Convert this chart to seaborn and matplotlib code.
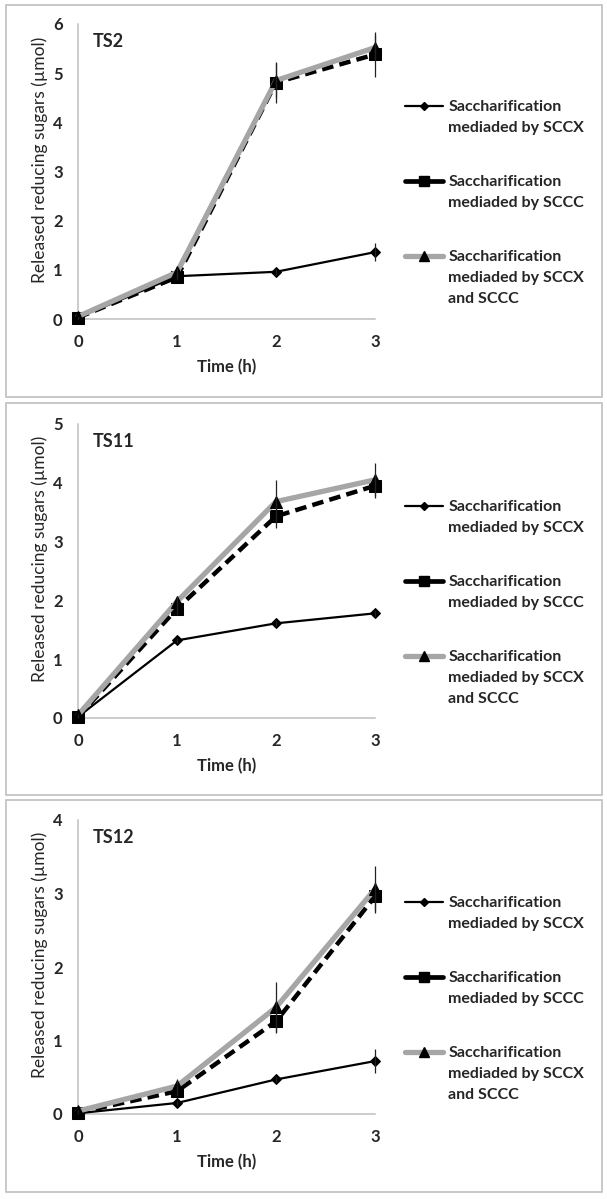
import matplotlib
matplotlib.use("Agg")
import matplotlib.pyplot as plt
from matplotlib.lines import Line2D
from matplotlib.patches import Rectangle
import seaborn as sns

# time points (h)
time_h = [0, 1, 2, 3]

# TS2
ts2_sccx = [0.03, 0.87, 0.96, 1.36]
ts2_sccx_err = [0.02, 0.05, 0.06, 0.19]
ts2_sccc = [0.03, 0.85, 4.81, 5.38]
ts2_sccc_err = [0.02, 0.06, 0.42, 0.45]
ts2_both = [0.05, 0.95, 4.85, 5.52]
ts2_both_err = [0.02, 0.08, 0.35, 0.25]

# TS11
ts11_sccx = [0.02, 1.32, 1.61, 1.78]
ts11_sccx_err = [0.01, 0.04, 0.04, 0.04]
ts11_sccc = [0.02, 1.86, 3.43, 3.95]
ts11_sccc_err = [0.02, 0.10, 0.20, 0.20]
ts11_both = [0.05, 1.98, 3.68, 4.05]
ts11_both_err = [0.02, 0.10, 0.37, 0.28]

# TS12
ts12_sccx = [0.01, 0.15, 0.47, 0.72]
ts12_sccx_err = [0.01, 0.03, 0.04, 0.16]
ts12_sccc = [0.02, 0.31, 1.26, 2.96]
ts12_sccc_err = [0.01, 0.06, 0.16, 0.20]
ts12_both = [0.04, 0.38, 1.45, 3.06]
ts12_both_err = [0.01, 0.10, 0.34, 0.32]

titles = ["TS2", "TS11", "TS12"]
ymaxes = [6, 5, 4]
legend_labels = [["Saccharification", "mediaded by SCCX"],
                 ["Saccharification", "mediaded by SCCC"],
                 ["Saccharification", "mediaded by SCCX", "and SCCC"]]

sns.set_theme(style="white")
plt.rcParams['font.family'] = ['Lato', 'DejaVu Sans']

W, H = 607, 1199
fig = plt.figure(figsize=(6.07, 11.99), dpi=100)

# (border top, border bottom, axes top, axes bottom) in pixels
geom = [(5, 397, 24, 319), (403, 795, 424, 718), (800, 1192, 820, 1114)]
ax_left, ax_right = 78, 375
grey = "#a6a6a6"
edge = "#bfbfbf"

data = [
    (ts2_sccx, ts2_sccx_err, ts2_sccc, ts2_sccc_err, ts2_both, ts2_both_err),
    (ts11_sccx, ts11_sccx_err, ts11_sccc, ts11_sccc_err, ts11_both, ts11_both_err),
    (ts12_sccx, ts12_sccx_err, ts12_sccc, ts12_sccc_err, ts12_both, ts12_both_err),
]

handles = [
    Line2D([], [], color="black", lw=1.6, marker="D", markersize=4.5),
    Line2D([], [], color="black", lw=3.4, marker="s", markersize=6.5),
    Line2D([], [], color=grey, lw=3.8, marker="^", markersize=6.5,
           markerfacecolor="black", markeredgecolor="black"),
]

extra_lines = []
for i in range(3):
    bt, bb, at, ab = geom[i]
    fig.patches.append(Rectangle((6 / W, 1 - bb / H), (602 - 6) / W, (bb - bt) / H,
                                 transform=fig.transFigure, fill=False,
                                 edgecolor=edge, lw=1.2))
    ax = fig.add_axes([ax_left / W, 1 - ab / H, (ax_right - ax_left) / W, (ab - at) / H])
    sccx, sccx_e, sccc, sccc_e, both, both_e = data[i]

    sns.lineplot(x=time_h, y=sccx, ax=ax, color="black", lw=1.6, marker="D",
                 markersize=5.5, markeredgecolor="black", errorbar=None, clip_on=False, zorder=3)
    sns.lineplot(x=time_h, y=sccc, ax=ax, color="black", lw=3.2, linestyle=(0, (2.6, 1.4)),
                 marker="s", markersize=8.5, markeredgecolor="black", errorbar=None,
                 clip_on=False, zorder=4)
    sns.lineplot(x=time_h, y=both, ax=ax, color=grey, lw=3.8, marker="^", markersize=8.5,
                 markerfacecolor="black", markeredgecolor="black", errorbar=None,
                 clip_on=False, zorder=5)
    for vals, errs in ((sccx, sccx_e), (sccc, sccc_e), (both, both_e)):
        ax.errorbar(time_h, vals, yerr=errs, fmt="none", ecolor="#222222",
                    elinewidth=0.9, capsize=0, zorder=6, clip_on=False)

    ax.set_xlim(0, 3)
    ax.set_ylim(0, ymaxes[i])
    ax.set_xticks(time_h)
    ax.set_yticks(range(0, ymaxes[i] + 1))
    for s in ["top", "right"]:
        ax.spines[s].set_visible(False)
    for s in ["left", "bottom"]:
        ax.spines[s].set_color(edge)
        ax.spines[s].set_linewidth(1.1)
    ax.tick_params(axis="both", length=0, labelsize=12)
    ax.tick_params(axis="y", pad=11)
    ax.tick_params(axis="x", pad=11)
    for lab in ax.get_xticklabels() + ax.get_yticklabels():
        lab.set_fontweight("bold")
    ax.set_xlabel("Time (h)", fontsize=12, fontweight="bold")
    ax.set_ylabel("Released reducing sugars (\u00b5mol)", fontsize=12.5)
    ax.xaxis.set_label_coords(0.5, -0.135)
    ax.yaxis.set_label_coords(-0.10, 0.54)
    ax.text(0.05, 0.94, titles[i], transform=ax.transAxes, fontsize=13,
            fontweight="bold", va="center", ha="left")

    for k in range(3):
        yc = at + 83 + 75 * k
        leg = fig.legend(handles=[handles[k]], labels=[legend_labels[k][0]],
                         loc="center left", bbox_to_anchor=(405 / W, 1 - yc / H),
                         frameon=False, borderpad=0, borderaxespad=0,
                         handlelength=2.4, handletextpad=0.3,
                         prop={"weight": "bold", "size": 11.5})
        extra_lines.append((leg, legend_labels[k][1:]))

fig.canvas.draw()
for leg, rest in extra_lines:
    t = leg.get_texts()[0]
    x0, y0 = t.get_transform().transform(t.get_position())
    for j, line in enumerate(rest):
        fig.text(x0 / W, (y0 - 21 * (j + 1)) / H, line, fontsize=11.5,
                 fontweight="bold", va="baseline", ha="left")

fig.savefig("out.png", dpi=100, facecolor="white")
